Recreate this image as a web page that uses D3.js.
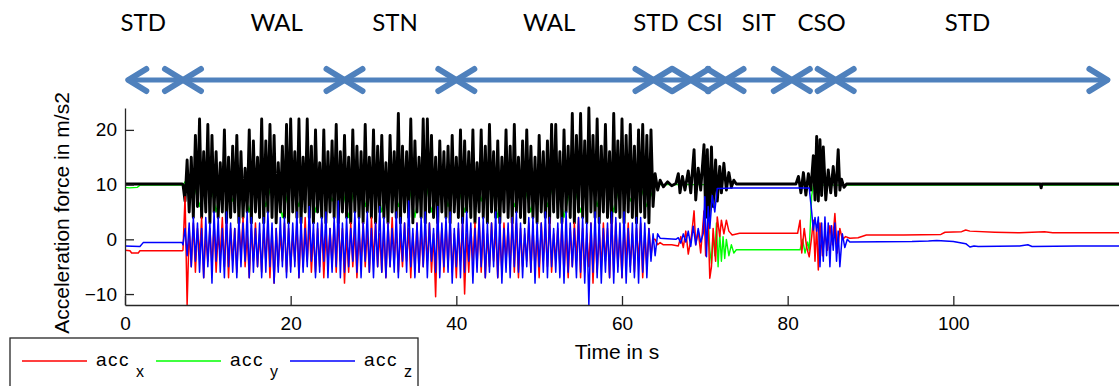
<!DOCTYPE html>
<html>
<head>
<meta charset="utf-8">
<script src="https://cdn.jsdelivr.net/npm/d3@7"></script>
<style>
  html, body { margin: 0; padding: 0; background: #fff; }
  svg { display: block; }
</style>
</head>
<body>
<div id="chart"></div>
<script>
// activity phases along the top, boundaries in seconds
const phaseNames = ['STD', 'WAL', 'STN', 'WAL', 'STD', 'CSI', 'SIT', 'CSO', 'STD'];
const phaseBounds = [0.4, 7.0, 26.5, 40.0, 63.8, 68.3, 72.5, 80.5, 85.8, 118.6];
const phaseLabelAt = [2.2, 18.3, 32.6, 51.2, 64.1, 70.0, 76.5, 84.1, 101.7];

const xTicks = [0, 20, 40, 60, 80, 100];
const yTicks = [-10, 0, 10, 20];

// walking part is sampled every 0.25 s from 7 s (green every 1 s)
const walkStart = 7;
const walkStep = 0.25;
const greenWalkStep = 1;

// black trace (magnitude)
const accNPre = [[0, 10.1], [6.9, 10.1]];
const accNWalk = [
  10, 7, 14.5, 5,  15, 4, 19, 6,  22, 4, 16, 5,  21, 3, 19, 5,  16, 4, 14, 5,
  20, 3, 15, 4,  17, 5, 19, 3,  16, 4, 13, 5,  20, 3, 18, 5,  15, 4, 22, 3,
  18, 5, 21, 4,  19, 3, 14, 5,  17, 4, 21, 3,  22, 5, 16, 4,  22, 3, 15, 5,
  22, 4, 17, 3,  20, 5, 14, 4,  20, 3, 16, 5,  18, 4, 21, 3,  16, 5, 19, 4,
  15, 3, 20, 5,  17, 4, 16, 3,  21, 5, 15, 4,  20, 3, 17, 5,  19, 4, 14, 3,
  19, 5, 16, 4,  23, 3, 17, 5,  16, 4, 22, 3,  18, 5, 15, 4,  22, 3, 22, 5,
  19, 4, 15, 3,  18, 5, 16, 4,  17, 3, 19, 5,  15, 4, 20, 3,  18, 5, 16, 4,
  20, 3, 14, 5,  20, 4, 17, 3,  21, 5, 16, 4,  18, 3, 15, 5,  20, 4, 17, 3,
  21, 5, 15, 4,  18, 3, 20, 5,  17, 4, 15, 3,  19, 5, 16, 4,  18, 3, 21, 5,
  21, 4, 16, 3,  20, 5, 17, 4,  23, 3, 19, 5,  23, 4, 18, 3,  24, 5, 19, 4,
  22, 3, 17, 5,  21, 4, 16, 3,  23, 5, 18, 4,  22, 3, 19, 5,  21, 4, 17, 3,
  20, 5, 21, 4,  19, 3, 20, 6
];
const accNPost = [
  [64, 12], [64.3, 9], [64.6, 10.8], [65, 9.6], [65.5, 10.5], [66, 9.8], [66.5, 10.2],
  [66.8, 12], [67, 8.5], [67.3, 11.5], [67.6, 9], [68, 12.5], [68.3, 8.5], [68.7, 16.4],
  [68.9, 7.2], [69.2, 13], [69.5, 9], [69.9, 17.3], [70.1, 4], [70.3, 16.4], [70.5, 4],
  [70.8, 16.9], [71, 6], [71.3, 14.5], [71.5, 7], [71.8, 13.3], [72, 8.5], [72.3, 13.9],
  [72.6, 9], [72.9, 12.2], [73.2, 9.5], [73.5, 10.8], [73.8, 10.1],
  [81, 10.1], [81.3, 11.5], [81.6, 8.5], [81.9, 12.2], [82.2, 8.1], [82.5, 12], [82.8, 9],
  [83.1, 15.3], [83.3, 7.2], [83.5, 18.8], [83.7, 7], [83.9, 18.2], [84.1, 8], [84.3, 16.9],
  [84.6, 7.2], [84.9, 12.7], [85.2, 8.5], [85.5, 13.3], [85.8, 8], [86.1, 16.4], [86.3, 9],
  [86.5, 11], [86.8, 9.5], [87.1, 10.1], [110.5, 10.1], [110.6, 9.4], [110.7, 10.1], [120, 10.1]
];

// acc x (red)
const accXPre = [[0, -2], [0.6, -2.1], [0.8, -2.5], [1.6, -2.5], [1.8, -2.1], [6.9, -2.1]];
const accXWalk = [
  -2, 7.8, -12, 2,  -5, 3, -6, 2,  -3, 4, -7, 1,  -4, 2, -5, 3,  -6, 1, -3, 4,
  -5, 3, -7, 2,  -4, 2, -6, 3,  -3, 4, -5, 1,  -7, 2, -4, 3,  -5, 1, -6, 2,
  -4, 3, -7, 2,  -8, 2, -5, 1,  -4, 3, -6, 2,  -5, 1, -4, 3,  -7, 2, -5, 4,
  -4, 3, -6, 1,  -6, 2, -5, 3,  -7, 1, -4, 2,  -5, 3, -6, 4,  -4, 2, -8, 1,
  -6, 3, -5, 2,  -7, 1, -4, 3,  -5, 2, -6, 4,  -4, 3, -5, 1,  -6, 2, -7, 3,
  -5, 4, -4, 2,  -6, 1, -5, 3,  -4, 2, -7, 1,  -5, 3, -6, 2,  -5, 2, -4, 3,
  -6, 1, -10.5, 4,  -4, 2, -6, 3,  -5, 3, -6, 1,  -7, 2, -4, 3,  -10, 1, -6, 2,
  -4, 3, -5, 4,  -6, 2, -7, 1,  -5, 3, -4, 2,  -7, 1, -6, 3,  -4, 2, -5, 4,
  -6, 3, -7, 2,  -5, 1, -4, 3,  -6, 2, -5, 1,  -7, 3, -4, 2,  -5, 4, -6, 1,
  -4, 2, -5, 3,  -6, 1, -7, 2,  -5, 3, -4, 4,  -7, 2, -6, 1,  -5, 3, -8, 2,
  -6, 1, -5, 3,  -4, 2, -7, 4,  -6, 3, -5, 1,  -7, 2, -4, 3,  -5, 1, -6, 2,
  -4, 3, -7, 1,  -5, 2, -3, 0
];
const accXPost = [
  [64, 0], [64.3, -1], [64.6, -0.6], [65, -1], [66, -1], [66.8, -1.2], [67.1, 0.5],
  [67.4, -1.5], [67.7, 1.5], [68, -2.7], [68.4, 0.8], [68.7, 5.2], [68.9, -1], [69.2, 1.5],
  [69.5, -2.5], [69.9, 5.2], [70.1, -3], [70.4, 3], [70.6, -7.1], [70.8, -5], [71, 2],
  [71.3, -4], [71.5, 4.1], [71.8, 0.5], [72, 3.5], [72.3, 1], [72.6, 3.5], [72.9, 1.5],
  [73.3, 0.8], [74.2, 1.1], [81.2, 1.1], [81.5, 3.5], [81.7, -2.5], [82, 2], [82.3, -1.5],
  [82.6, -3.2], [82.9, 0.5], [83.1, 3.5], [83.3, -4], [83.5, 2.5], [83.7, -5.6], [83.9, 3],
  [84.2, -3], [84.5, 1], [84.8, -2], [85.1, 2.5], [85.4, -1], [85.7, 4.7], [86, -2.5],
  [86.3, 2], [86.6, 0], [87, 0.5], [87.5, 0.2], [88.5, 0.3], [89.5, 0.8], [94, 0.8],
  [98.5, 0.9], [99, 1.3], [101, 1.4], [101.5, 1.7], [102, 1.5], [105, 1.3], [108, 1.2],
  [111, 1.4], [112, 1.2], [120, 1.2]
];

// acc y (green)
const accYPre = [[0, 9.5], [0.5, 9.4], [1.5, 9.5], [1.8, 9.9], [6.9, 9.9]];
const accYWalk = [
  10, 12, 6, 13, 5, 12, 7, 11, 5, 13, 6, 12, 4, 11, 6, 13, 5, 12, 7, 11,
  4, 12, 6, 13, 5, 11, 6, 12, 4, 13, 5, 12, 6, 11, 5, 12, 7, 13, 4, 12,
  6, 11, 5, 13, 6, 12, 4, 11, 5, 12, 6, 13, 5, 12, 7, 11, 6
];
const accYPost = [
  [64, 10], [70, 10], [70.2, 8], [70.4, 4], [70.6, -2], [70.8, -4.4], [71, 1], [71.2, -3],
  [71.4, 3], [71.6, -5], [71.8, 1.1], [72, -4], [72.2, 0.5], [72.4, -3.5], [72.6, 0],
  [72.9, -3], [73.2, -1], [73.5, -2.5], [73.8, -1.9], [81.5, -1.9], [81.8, 0], [82.1, -2.5],
  [82.4, -0.5], [82.6, -2], [82.9, 8], [83.1, 9.9], [120, 9.9]
];

// acc z (blue)
const accZPre = [[0, -1.2], [1.8, -1.3], [2.2, -0.6], [6.9, -0.6]];
const accZWalk = [
  -1, 2, -3, 3,  -5, 4, -4, 3,  -6, 2, -7, 4,  -5, 3, -8, 5,  -4, 4, -6, 2,
  -7, 5, -5, 3,  -6, 2, -7, 4,  -5, 3, -4, 5,  -7, 4, -6, 2,  -5, 3, -7, 4,
  -6, 5, -5, 3,  -8, 2, -6, 4,  -5, 4, -7, 3,  -6, 3, -5, 5,  -7, 4, -6, 2,
  -5, 6, -4, 3,  -7, 3, -6, 4,  -4, 5, -7, 2,  -6, 4, -5, 7,  -7, 3, -6, 4,
  -5, 2, -4, 5,  -6, 4, -7, 3,  -4, 5, -6, 2,  -7, 3, -5, 6,  -6, 4, -7, 3,
  -5, 2, -6, 5,  -7, 4, -4, 3,  -6, 7, -5, 2,  -7, 3, -6, 4,  -5, 5, -7, 3,
  -4, 2, -6, 6,  -7, 3, -5, 4,  -6, 5, -8, 2,  -5, 3, -7, 4,  -6, 5, -4, 3,
  -8, 2, -6, 4,  -5, 4, -7, 3,  -6, 3, -5, 5,  -7, 4, -8, 2,  -6, 3, -7, 4,
  -5, 5, -6, 3,  -7, 2, -5, 4,  -6, 4, -8, 3,  -5, 3, -6, 5,  -7, 4, -5, 2,
  -6, 3, -7, 4,  -8, 5, -6, 3,  -5, 2, -7, 4,  -6, 4, -8, 3,  -12, 3, -6, 5,
  -7, 4, -8, 2,  -6, 3, -7, 5,  -8, 4, -6, 3,  -7, 5, -8, 2,  -6, 3, -7, 4,
  -8, 4, -6, 3,  -7, 2, -4, 1
];
const accZPost = [
  [64, -3], [64.3, 1], [64.6, 0.2], [65.5, 0.1], [66.5, 0], [66.8, 0.3], [67.1, -0.7],
  [67.4, 1], [67.7, -0.5], [68, 1.5], [68.3, -1.3], [68.6, 2.4], [68.9, -1], [69.2, 2],
  [69.5, -0.5], [69.8, 1], [70, 7.8], [70.2, -3.2], [70.4, 6], [70.6, 2], [70.9, 8],
  [71.2, 5], [71.5, 9.3], [73.5, 9.4], [82.6, 9.4], [82.9, 5], [83.1, 1.7], [83.3, 4],
  [83.5, 1.5], [83.7, 4.1], [83.9, -5], [84.1, 3], [84.3, -4], [84.5, 4.1], [84.7, -3],
  [84.9, 3], [85.1, -5], [85.3, 2.5], [85.5, -2], [85.7, 3], [85.9, -4], [86.1, 1.5],
  [86.3, -5], [86.6, 1], [86.9, -1.5], [87.2, 0], [87.5, -0.5], [95, -0.4], [97, -0.3],
  [98, -0.2], [100, -0.4], [101.5, -0.8], [102, -1.4], [102.5, -1.2], [103, -1.3],
  [108, -1.2], [109, -1.0], [109.5, -1.3], [115, -1.2], [120, -1.2]
];

const legendNames = ['x', 'y', 'z'];

function joinSeries(pre, walk, step, post) {
  return pre.map(d => ({ t: d[0], v: d[1] }))
    .concat(walk.map((v, i) => ({ t: walkStart + i * step, v: v })))
    .concat(post.map(d => ({ t: d[0], v: d[1] })));
}

const series = [
  { color: '#00ff00', width: 1.4, data: joinSeries(accYPre, accYWalk, greenWalkStep, accYPost) },
  { color: '#000000', width: 2.9, data: joinSeries(accNPre, accNWalk, walkStep, accNPost) },
  { color: '#ff0000', width: 1.5, data: joinSeries(accXPre, accXWalk, walkStep, accXPost) },
  { color: '#0000ff', width: 1.5, data: joinSeries(accZPre, accZWalk, walkStep, accZPost) }
];

const width = 1119, height = 386;
const svg = d3.select('#chart').append('svg')
  .attr('width', width).attr('height', height);

const x = d3.scaleLinear().domain([0, 120]).range([125, 1119]);
const y = d3.scaleLinear().domain([-12, 24]).range([305, 108]);

svg.append('clipPath').attr('id', 'plot-clip')
  .append('rect').attr('x', 125).attr('y', 100).attr('width', 1000).attr('height', 205);

const line = d3.line().x(d => x(d.t)).y(d => y(d.v));

const plot = svg.append('g').attr('clip-path', 'url(#plot-clip)');
series.forEach(s => {
  plot.append('path')
    .datum(s.data)
    .attr('d', line)
    .attr('fill', 'none')
    .attr('stroke', s.color)
    .attr('stroke-width', s.width)
    .attr('stroke-linejoin', 'round');
});

// axes, ticks pointing inwards
const tickFont = '"Liberation Sans", Arial, sans-serif';
const xAxis = svg.append('g').attr('transform', 'translate(0,305)')
  .call(d3.axisBottom(x).tickValues(xTicks).tickSizeInner(-9).tickSizeOuter(0).tickPadding(12));
const yAxis = svg.append('g').attr('transform', 'translate(125,0)')
  .call(d3.axisLeft(y).tickValues(yTicks).tickSizeInner(-9).tickSizeOuter(0).tickPadding(8));

[xAxis, yAxis].forEach(g => {
  g.select('.domain').attr('stroke', '#262626').attr('stroke-width', 1.3);
  g.selectAll('.tick line').attr('stroke', '#262626').attr('stroke-width', 1.3);
  g.selectAll('.tick text').attr('fill', '#000').style('font-family', tickFont).style('font-size', '19px');
});

svg.append('text')
  .attr('x', 617).attr('y', 359)
  .attr('text-anchor', 'middle')
  .style('font-family', tickFont).style('font-size', '21px')
  .text('Time in s');

svg.append('text')
  .attr('transform', 'translate(69,213) rotate(-90)')
  .attr('text-anchor', 'middle')
  .style('font-family', tickFont).style('font-size', '21px')
  .text('Acceleration force in m/s2');

// phase labels and double arrows
const arrowColor = '#4f81bd';
const arrowY = 80;
svg.selectAll('.phase-label')
  .data(phaseNames)
  .enter().append('text')
  .attr('class', 'phase-label')
  .attr('x', (d, i) => x(phaseLabelAt[i]))
  .attr('y', 31)
  .attr('text-anchor', 'middle')
  .style('font-family', 'Lato, "Open Sans", sans-serif')
  .style('font-size', '24px')
  .text(d => d);

const arrows = svg.append('g')
  .attr('stroke', arrowColor)
  .attr('stroke-linecap', 'round')
  .attr('stroke-linejoin', 'round')
  .attr('fill', 'none');

const segs = d3.pairs(phaseBounds);
arrows.selectAll('.shaft')
  .data(segs)
  .enter().append('line')
  .attr('x1', d => x(d[0])).attr('x2', d => x(d[1]))
  .attr('y1', arrowY).attr('y2', arrowY)
  .attr('stroke-width', 5);

arrows.selectAll('.head')
  .data(segs)
  .enter().append('path')
  .attr('stroke-width', 6)
  .attr('d', d => {
    const a = x(d[0]), b = x(d[1]);
    return `M${a + 18},${arrowY - 11}L${a},${arrowY}L${a + 18},${arrowY + 11}` +
           `M${b - 18},${arrowY - 11}L${b},${arrowY}L${b - 18},${arrowY + 11}`;
  });

// legend box
const legend = svg.append('g');
legend.append('rect')
  .attr('x', 10).attr('y', 338).attr('width', 408).attr('height', 60)
  .attr('fill', '#fff').attr('stroke', '#262626').attr('stroke-width', 1.3);

const legendColors = ['#ff0000', '#00ff00', '#0000ff'];
legendNames.forEach((n, i) => {
  const x0 = 22 + i * 134;
  legend.append('line')
    .attr('x1', x0).attr('x2', x0 + 65)
    .attr('y1', 361).attr('y2', 361)
    .attr('stroke', legendColors[i]).attr('stroke-width', 1.4);
  legend.append('text')
    .attr('x', x0 + 74).attr('y', 366)
    .style('font-family', tickFont).style('font-size', '19px')
    .style('letter-spacing', '1.5px')
    .text('acc');
  legend.append('text')
    .attr('x', x0 + 114).attr('y', 377)
    .style('font-family', tickFont).style('font-size', '16px')
    .text(n);
});
</script>
</body>
</html>
